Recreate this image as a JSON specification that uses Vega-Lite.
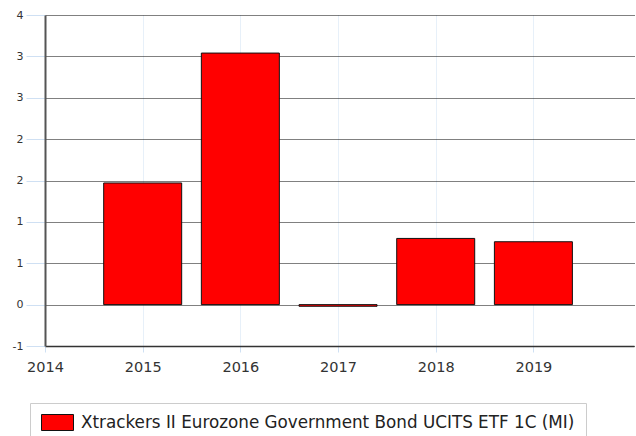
{
  "$schema": "https://vega.github.io/schema/vega-lite/v6.json",
  "width": 589,
  "height": 331,
  "autosize": "none",
  "padding": {"left": 45, "top": 15, "right": 2, "bottom": 90},
  "background": "white",
  "config": {"view": {"stroke": null}, "font": "DejaVu Sans"},
  "data": {
    "values": [
      {"year": 2015, "value": 1.47, "series": "Xtrackers II Eurozone Government Bond UCITS ETF 1C (MI)"},
      {"year": 2016, "value": 3.04, "series": "Xtrackers II Eurozone Government Bond UCITS ETF 1C (MI)"},
      {"year": 2017, "value": -0.02, "series": "Xtrackers II Eurozone Government Bond UCITS ETF 1C (MI)"},
      {"year": 2018, "value": 0.80, "series": "Xtrackers II Eurozone Government Bond UCITS ETF 1C (MI)"},
      {"year": 2019, "value": 0.76, "series": "Xtrackers II Eurozone Government Bond UCITS ETF 1C (MI)"}
    ]
  },
  "mark": {"type": "bar", "size": 78, "stroke": "#111", "strokeWidth": 1},
  "encoding": {
    "x": {
      "field": "year", "type": "quantitative",
      "scale": {"domain": [2014, 2020.03], "nice": false, "zero": false, "padding": 0},
      "axis": {
        "values": [2014, 2015, 2016, 2017, 2018, 2019],
        "format": "d", "title": null,
        "grid": true, "gridColor": "#cfe0f3", "gridDash": [1, 1],
        "domainColor": "#333", "domainWidth": 1.5,
        "tickColor": "#cfe0f3", "tickSize": 6,
        "labelFontSize": 14.5, "labelColor": "#333", "labelPadding": 8,
        "labelFlush": false
      }
    },
    "y": {
      "field": "value", "type": "quantitative",
      "scale": {"domain": [-0.5, 3.5], "nice": false, "padding": 0},
      "axis": {
        "values": [-0.5, 0, 0.5, 1, 1.5, 2, 2.5, 3, 3.5],
        "title": null,
        "labelExpr": "datum.value < 0 ? '-' + round(-datum.value) : '' + round(datum.value)",
        "grid": true, "gridColor": "#000", "gridDash": [1, 1], "gridOpacity": 1,
        "domainColor": "#555", "domainWidth": 2,
        "tickColor": "#cfe0f3", "tickSize": 19,
        "labelFontSize": 11, "labelColor": "#333", "labelPadding": 3
      }
    },
    "fill": {
      "field": "series", "type": "nominal",
      "scale": {"range": ["#ff0000"]},
      "legend": {
        "orient": "none", "legendX": -15, "legendY": 388,
        "title": null, "padding": 11,
        "strokeColor": "#ccc", "fillColor": "white",
        "symbolType": "M-2,-1H2V1H-2Z", "symbolSize": 256, "symbolOffset": 8,
        "symbolStrokeColor": "#111", "symbolStrokeWidth": 1,
        "labelFontSize": 16.8, "labelColor": "#222", "labelOffset": 15, "labelLimit": 700
      }
    }
  }
}
